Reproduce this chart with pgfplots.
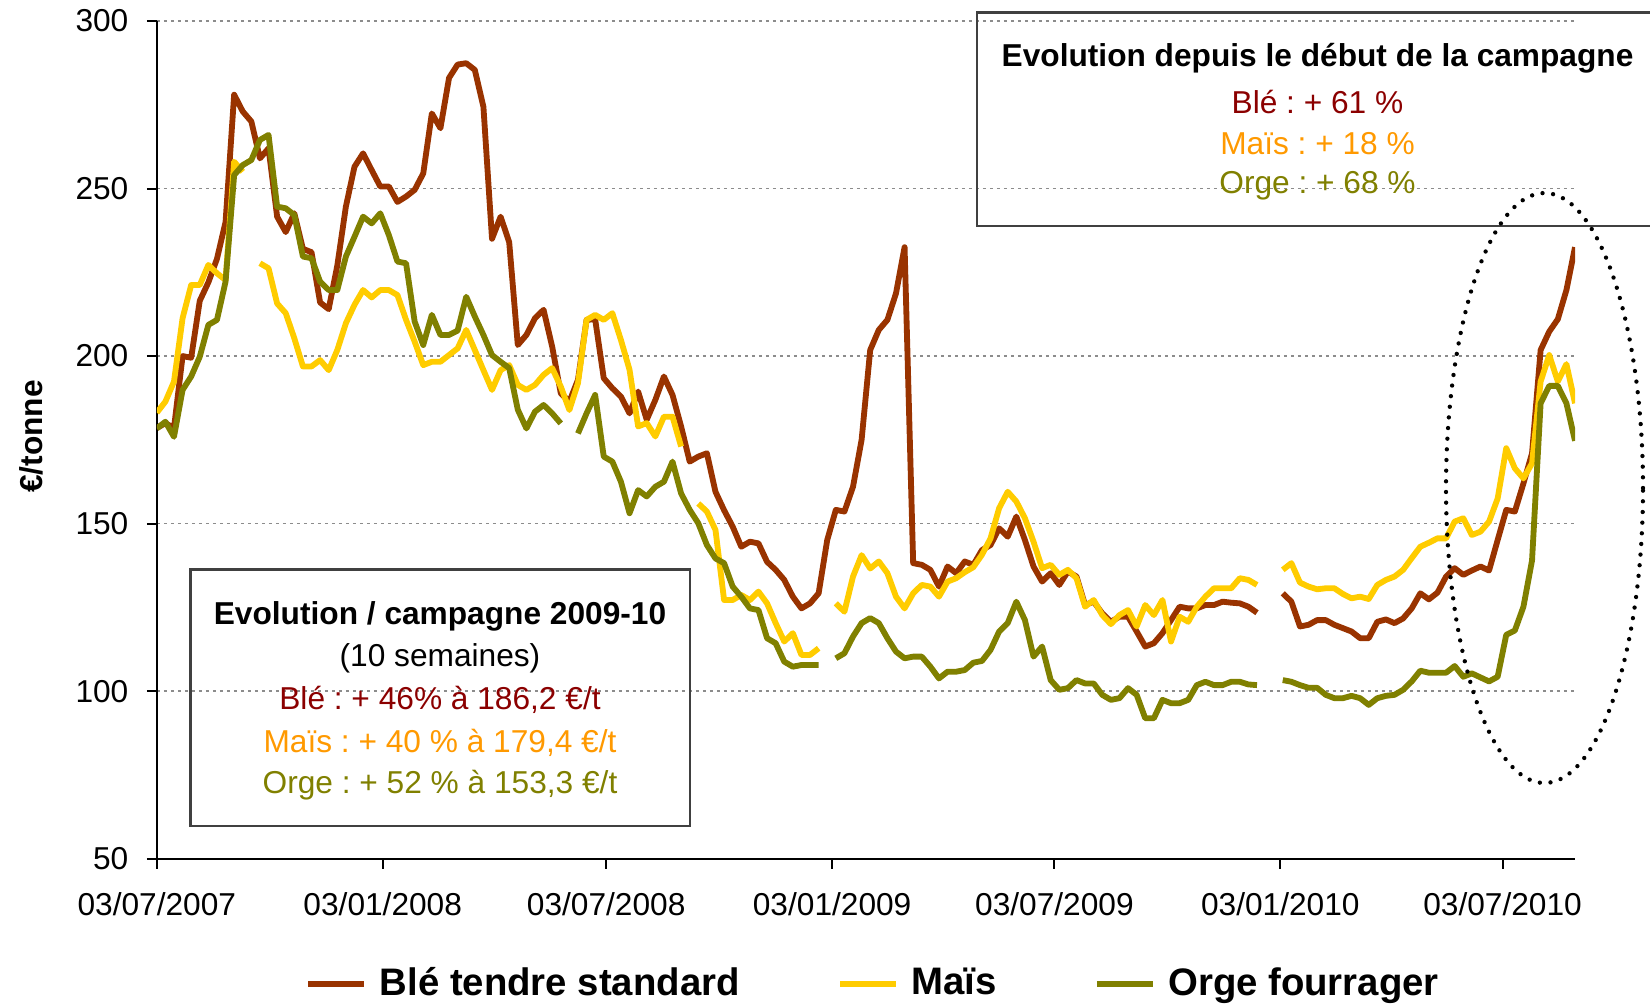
\documentclass[border=0pt]{standalone}
\usepackage{fontspec}
\setmainfont{Liberation Sans}
\usepackage{pgfplots}
\usepackage{pgfplotstable}
\pgfplotsset{compat=1.18}
\frenchspacing
\definecolor{ble}{HTML}{993300}
\definecolor{mais}{HTML}{FFCC00}
\definecolor{orge}{HTML}{808000}
\definecolor{bletxt}{HTML}{8B0000}
\definecolor{maistxt}{HTML}{FF9900}
\definecolor{orgetxt}{HTML}{808000}
\definecolor{gridg}{HTML}{8C8C8C}
\definecolor{boxg}{HTML}{404040}
\newcommand{\fs}{\fontsize{9.5pt}{11pt}\selectfont}
\newcommand{\fl}{\fontsize{11.5pt}{13pt}\selectfont}
\pgfplotstableread{
w ble mais orge
0 178.5 183.1 178.4
1 180 186.4 180.4
2 178.5 192.4 175.9
3 200 211.3 189.9
4 199.5 221.2 193.9
5 216.5 221.2 199.8
6 222 227.2 209.3
7 229 224.7 210.8
8 240 222.7 222.2
9 278 258 254.0
10 273 255 257.0
11 270 nan 258.5
12 259 227.7 264.5
13 262 226.2 266.0
14 241.6 215.7 244.6
15 237 212.8 244.1
16 242.6 205.3 242.1
17 232 196.9 229.7
18 231 196.9 229.2
19 216 198.8 222.2
20 214 195.8 219.7
21 227 201.8 219.7
22 244.6 209.8 229.7
23 256.5 215.3 235.6
24 260.5 219.7 241.6
25 255.5 217.5 239.6
26 250.6 219.7 242.6
27 250.6 219.7 236.1
28 246 218.2 228.2
29 247.6 210.8 227.7
30 249.6 204.3 210.3
31 254.5 197.3 203.3
32 272.4 198.3 212.3
33 268 198.3 206.3
34 283 200.3 206.3
35 287 202.3 207.6
36 287.4 207.8 217.7
37 285.4 201.8 211.8
38 274.4 195.8 206.3
39 235 189.9 200.3
40 241.6 195.8 198.3
41 234 197.3 196.4
42 203.3 191.4 184.0
43 206.3 189.9 178.4
44 211.3 191.4 183.4
45 213.8 194.4 185.4
46 202.8 196.4 182.9
47 188.9 190.9 179.9
48 186.4 183.9 nan
49 192.9 191.9 176.9
50 210.8 210.8 182.9
51 211 212.3 188.4
52 193.4 210.8 170
53 190.4 212.8 168.5
54 187.9 204.8 162.5
55 182.9 195.9 153.1
56 189.4 179 160.0
57 181 180 158.1
58 186.9 176 161
59 193.9 181.9 162.5
60 188.4 181.9 168.5
61 179 173 159.0
62 168.5 nan 154.1
63 170 156 150.1
64 171 153.6 143.6
65 159.5 148.1 139.6
66 154 127.2 138.2
67 149.1 127.2 131.2
68 143.1 128.7 128.2
69 144.6 127.2 124.7
70 144.1 129.7 124.2
71 138.6 126.2 115.8
72 136.2 120.3 114.3
73 133.2 114.8 108.8
74 128.2 117.3 107.3
75 124.7 110.8 107.8
76 126.2 110.8 107.8
77 129.2 112.8 107.8
78 145.1 nan nan
79 154.1 126.2 109.8
80 153.6 123.7 111.3
81 161 134.2 116.3
82 175 140.6 120.3
83 201.8 136.6 121.8
84 207.8 138.7 120.3
85 210.8 135.2 115.8
86 218.7 128.2 111.8
87 232.5 124.7 109.8
88 138.2 129.2 110.3
89 137.7 131.7 110.3
90 136.2 131.2 107.3
91 131.2 128.2 103.8
92 137.2 132.7 105.8
93 135.2 133.7 105.8
94 138.7 135.5 106.3
95 137.7 137 108.5
96 142.1 140.7 109
97 143.6 145.6 112.3
98 148.6 154.6 117.8
99 146.1 159.5 120.3
100 152.1 156.6 126.7
101 145.1 151.6 121.2
102 137.2 144.6 110.3
103 132.7 136.7 113.3
104 135.2 137.7 103.3
105 131.7 134.7 100.4
106 135.7 136.2 100.9
107 134.2 133.7 103.3
108 125.7 125.2 102.3
109 126.7 127.2 102.3
110 123.2 122.7 98.9
111 120.7 120.0 97.4
112 122.2 122.7 97.9
113 122.2 124.2 100.9
114 117.8 119.3 98.9
115 113.3 125.7 91.9
116 114.3 122.7 91.9
117 117.3 127.2 97.4
118 121.2 114.8 96.4
119 125.2 122.2 96.4
120 124.7 120.7 97.4
121 124.7 125.2 101.8
122 125.7 128.2 102.8
123 125.7 130.7 101.8
124 126.7 130.7 101.8
125 126.4 130.7 102.8
126 126.2 133.7 102.8
127 125.2 133.2 102.0
128 123.4 131.7 101.8
129 nan nan nan
130 nan nan nan
131 129.2 136.2 103.3
132 126.7 138.2 102.8
133 119.3 132.4 101.8
134 119.8 131.2 101.0
135 121.2 130.4 101.0
136 121.2 130.7 98.9
137 119.8 130.7 97.9
138 118.8 129.0 97.9
139 117.8 127.7 98.6
140 115.8 128.2 97.9
141 115.8 127.5 95.9
142 120.7 131.7 97.9
143 121.4 133.2 98.6
144 120.3 134.2 98.9
145 121.7 136.2 100.4
146 124.7 139.7 102.9
147 129.2 143.1 106.1
148 127.4 144.3 105.5
149 129.4 145.6 105.5
150 134.2 145.6 105.5
151 136.7 150.6 107.5
152 134.7 151.6 104.3
153 136.0 146.6 105.3
154 137.2 147.6 104.1
155 136.0 150.6 102.9
156 145.1 157.5 104.3
157 154.1 172.5 116.8
158 153.6 166.5 118.1
159 162.0 163.5 125.2
160 171.0 168.0 139
161 201.8 192.4 185.9
162 207.3 200.3 191.1
163 211.0 192.4 191.1
164 219.7 197.6 185.9
165 232.5 185.9 174.7
}\data
\begin{document}
\begin{tikzpicture}
\begin{axis}[
  at={(0,0)}, anchor=south west,
  scale only axis, width=425.46pt, height=251.31pt,
  xmin=0, xmax=165, ymin=50, ymax=300,
  axis lines=left,
  axis line style={-, line width=0.6pt, black},
  ytick={50,100,150,200,250,300},
  xtick={0,26.286,52.286,78.571,104.429,130.714,156.571},
  xticklabels={03/07/2007,03/01/2008,03/07/2008,03/01/2009,03/07/2009,03/01/2010,03/07/2010},
  tick align=outside, major tick length=3pt,
  tick style={black, line width=0.6pt},
  ymajorgrids,
  grid style={gridg, dash pattern=on 0.9pt off 1.2pt, line width=0.5pt},
  ticklabel style={font=\fs},
  /pgf/number format/assume math mode=true,
  yticklabel style={xshift=-2pt},
  xticklabel style={yshift=-3.5pt},
  unbounded coords=jump,
  ylabel={\textbf{€/tonne}},
  ylabel style={at={(axis description cs:-0.0883,0.5038)}, anchor=center, font=\fs},
  legend columns=3,
  legend style={draw=none, fill=none, at={(0.5085,-0.1496)}, anchor=center,
    font=\bfseries\fl, inner sep=0pt,
    nodes={inner xsep=3.6pt},
    /tikz/every even column/.append style={column sep=25.5pt}},
  legend image code/.code={\draw[#1, line width=2pt] (0pt,0pt) -- (16.8pt,0pt);},
]
\addplot[ble, line width=1.75pt, line join=round, no marks] table[x=w, y=ble] {\data};
\addlegendentry{Blé tendre standard}
\addplot[mais, line width=1.75pt, line join=round, no marks] table[x=w, y=mais] {\data};
\addlegendentry{Maïs}
\addplot[orge, line width=1.75pt, line join=round, no marks] table[x=w, y=orge] {\data};
\addlegendentry{Orge fourrager}
\end{axis}
% annotation boxes
\draw[boxg, line width=0.85pt] (246.06pt,189.81pt) rectangle (452pt,253.8pt);
\node[font=\bfseries\fs] at (348.21pt,240.24pt) {Evolution depuis le début de la campagne};
\node[font=\fs, text=bletxt] at (348.21pt,227.01pt) {Blé : + 61 \%};
\node[font=\fs, text=maistxt] at (348.21pt,214.41pt) {Maïs : + 18 \%};
\node[font=\fs, text=orgetxt] at (348.21pt,201.81pt) {Orge : + 68 \%};
\draw[boxg, line width=0.85pt] (10.11pt,9.81pt) rectangle (159.96pt,86.82pt);
\node[font=\bfseries\fs] at (84.96pt,72.6pt) {Evolution / campagne 2009-10};
\node[font=\fs] at (84.96pt,60.12pt) {(10 semaines)};
\node[font=\fs, text=bletxt] at (84.96pt,47.61pt) {Blé : + 46\% à 186,2 €/t};
\node[font=\fs, text=maistxt] at (84.96pt,34.62pt) {Maïs : + 40 \% à 179,4 €/t};
\node[font=\fs, text=orgetxt] at (84.96pt,22.11pt) {Orge : + 52 \% à 153,3 €/t};
\draw[black, line width=1.3pt, dash pattern=on 0pt off 3.2pt, line cap=round] (416.31pt,111.21pt) ellipse [x radius=29.55pt, y radius=88.5pt];
\pgfresetboundingbox
\useasboundingbox (-47.04pt,-43.89pt) rectangle (447.96pt,257.61pt);
\end{tikzpicture}
\end{document}
